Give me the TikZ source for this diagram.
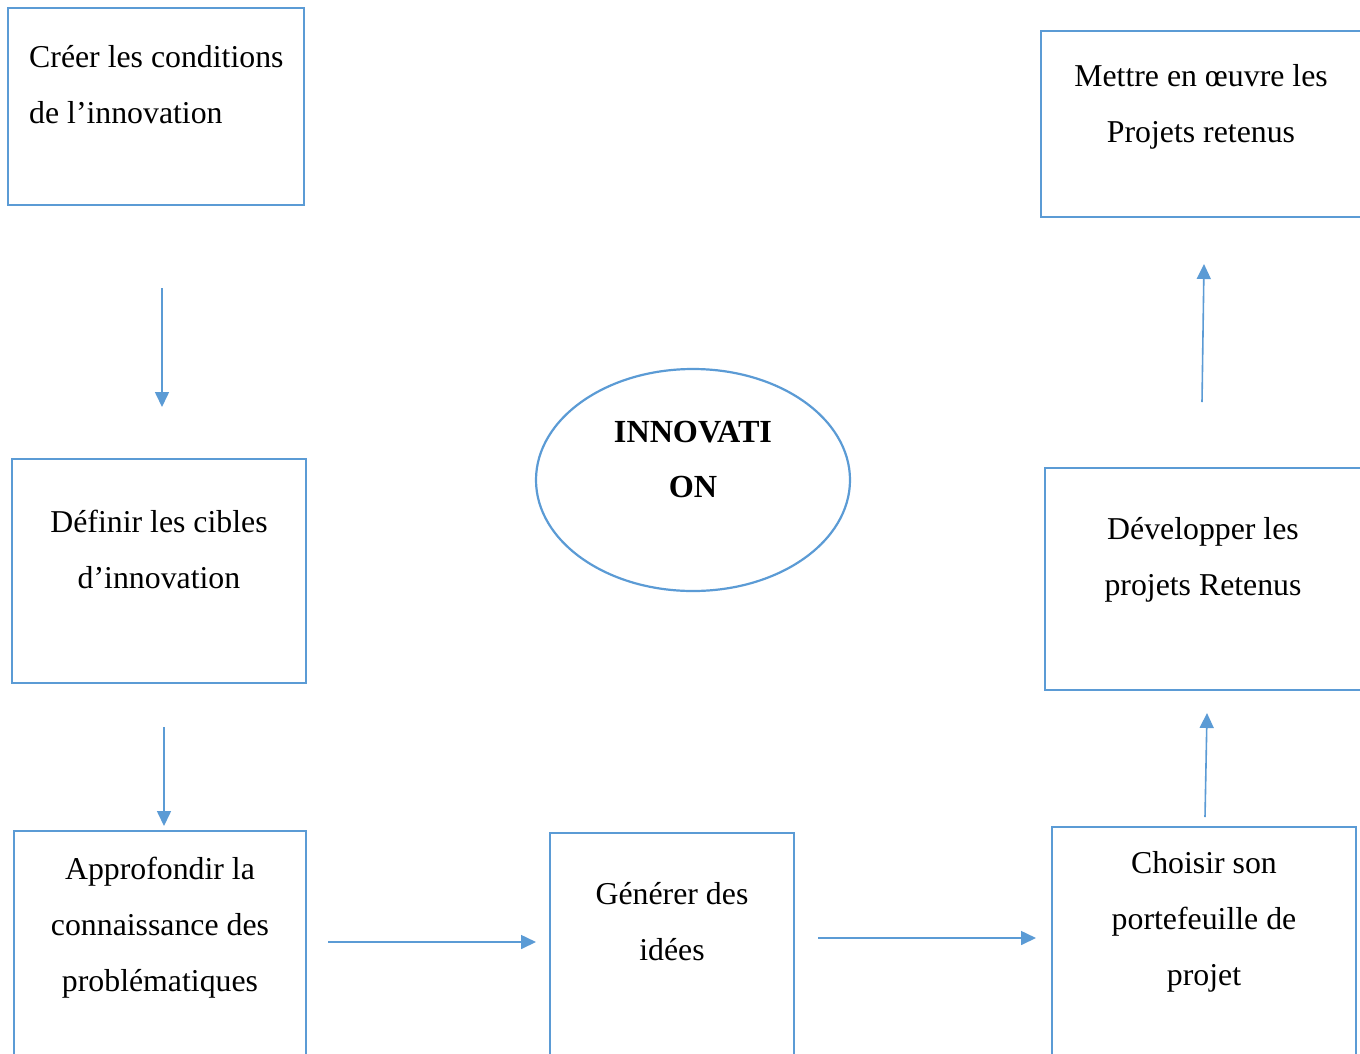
\documentclass[tikz,border=0pt]{standalone}
\usepackage{fontspec}
\setmainfont{Liberation Serif}
\usetikzlibrary{arrows.meta,shapes.geometric}
\definecolor{bl}{HTML}{5B9BD5}
\begin{document}
\begin{tikzpicture}[x=1pt,y=-1pt,
  box/.style={draw=bl,line width=2.8pt,rectangle,inner sep=0pt},
  txt/.style={font=\fontsize{31.8}{56}\selectfont,align=center,inner sep=0pt,anchor=north},
  conn/.style={draw=bl,line width=1.6pt,-{Triangle[length=15pt,width=14pt]}}]
\useasboundingbox (0,0) rectangle (1360,1053);
\clip (0,0) rectangle (1360,1053);
\fill[white] (0,0) rectangle (1360,1053);
% boxes
\node[box,minimum width=296pt,minimum height=197pt] (b1) at (156,106.5) {};
\node[box,minimum width=294pt,minimum height=224pt] (b2) at (159,571) {};
\node[box,minimum width=292pt,minimum height=249pt] (b3) at (160,955.5) {};
\node[box,minimum width=244pt,minimum height=247pt] (b4) at (672,956.5) {};
\node[box,minimum width=304pt,minimum height=253pt] (b5) at (1204,953.5) {};
\node[box,minimum width=325pt,minimum height=222pt] (b6) at (1207.5,579) {};
\node[box,minimum width=329pt,minimum height=186pt] (b7) at (1205.5,124) {};
\node[draw=bl,line width=2.2pt,ellipse,inner sep=0pt,minimum width=314pt,minimum height=222pt] (el) at (693,480) {};
% texts
\node[txt,align=left,anchor=north west] (t1) at (29,27.8) {\strut Créer les conditions\\de l’innovation};
\node[txt] (t2) at (159,492.8) {\strut Définir les cibles\\d’innovation};
\node[txt] (t3) at (160,839.8) {\strut Approfondir la\\connaissance des\\problématiques};
\node[txt] (t4) at (672,864.8) {\strut Générer des\\idées};
\node[txt] (t5) at (1204,834.3) {\strut Choisir son\\portefeuille de\\projet};
\node[txt] (t6) at (1203,499.8) {\strut Développer les\\projets Retenus};
\node[txt] (t7) at (1201,47) {\strut Mettre en œuvre les\\Projets retenus};
\node[txt,font=\fontsize{32.2}{55}\selectfont\bfseries] (te) at (693,403.3) {\strut INNOVATI\\ON};
% connectors
\coordinate (a1s) at (162,288); \coordinate (a1e) at (162,407);
\coordinate (a2s) at (164,727); \coordinate (a2e) at (164,826);
\coordinate (a3s) at (328,942); \coordinate (a3e) at (536,942);
\coordinate (a4s) at (818,938); \coordinate (a4e) at (1036,938);
\coordinate (a5s) at (1205,817); \coordinate (a5e) at (1207,713);
\coordinate (a6s) at (1202,402); \coordinate (a6e) at (1204,264);
\draw[conn] (a1s) -- (a1e);
\draw[conn] (a2s) -- (a2e);
\draw[conn] (a3s) -- (a3e);
\draw[conn] (a4s) -- (a4e);
\draw[conn] (a5s) -- (a5e);
\draw[conn] (a6s) -- (a6e);
\end{tikzpicture}
\end{document}
